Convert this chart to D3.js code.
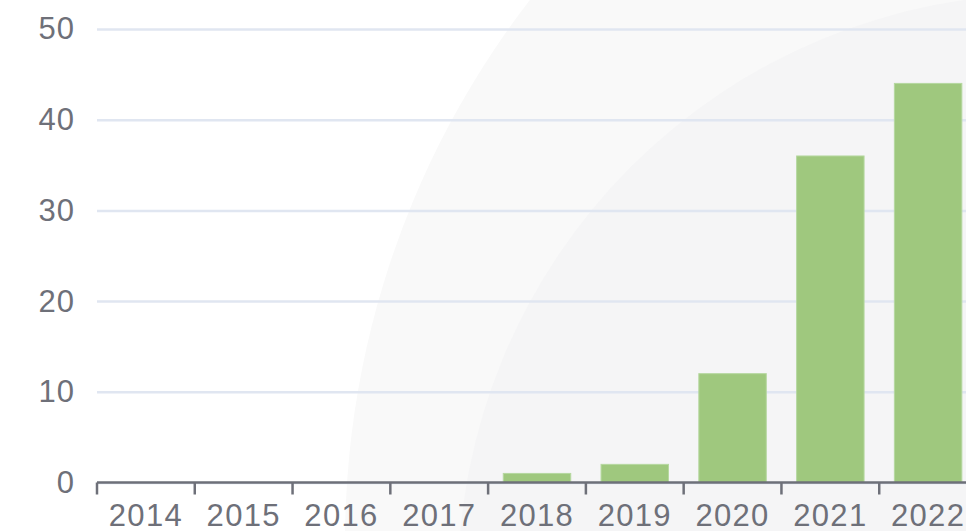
<!DOCTYPE html>
<html lang="en">
<head>
    <meta charset="UTF-8"/>
    <title>Bar chart</title>
    <script src="https://d3js.org/d3.v7.min.js"></script>
    <style>
        body { margin: 0; background: #fff; }
        svg { display: block; font-family: "Liberation Sans", Arial, Helvetica, sans-serif; }
    </style>
</head>
<body>

    <div id="chart"></div>

    <script>
        var years = ["2014", "2015", "2016", "2017", "2018", "2019", "2020", "2021", "2022"];
        var counts = [0, 0, 0, 0, 1, 2, 12, 36, 44];
        var yTicks = [0, 10, 20, 30, 40, 50];

        var w = 966;
        var h = 531;
        var plotLeft = 97;
        var plotRight = 977;   // plot runs past the window edge
        var plotTop = 29;
        var plotBottom = 482.5;
        var fontSize = "31px";

        var svg = d3.select("#chart")
                    .append("svg")
                    .attr("width", w)
                    .attr("height", h);

        // faint decorative circles in the background
        svg.append("circle")
           .attr("cx", 1232).attr("cy", 542).attr("r", 887)
           .attr("fill", "#f9f9f9");
        svg.append("circle")
           .attr("cx", 1048).attr("cy", 584).attr("r", 590)
           .attr("fill", "#f5f5f6");

        var xScale = d3.scaleBand()
                        .domain(years)
                        .range([plotLeft, plotRight])
                        .paddingInner(0.31)
                        .paddingOuter(0.155);

        var yScale = d3.scaleLinear()
                        .domain([0, 50])
                        .range([plotBottom, plotTop]);

        // grid lines + y labels
        var yAxis = d3.axisLeft(yScale)
                      .tickValues(yTicks)
                      .tickSize(-(plotRight - plotLeft))
                      .tickPadding(22);
        var gy = svg.append("g")
           .attr("transform", "translate(" + plotLeft + ",0)")
           .call(yAxis);
        gy.select(".domain").remove();
        gy.selectAll(".tick line")
          .attr("stroke", "#e0e6f1")
          .attr("stroke-width", 2.5);
        gy.selectAll(".tick text")
          .attr("fill", "#6e7079")
          .attr("font-size", fontSize)
          .attr("letter-spacing", "1px")
          .attr("font-family", "Liberation Sans, Arial, sans-serif");

        // bars
        svg.selectAll("rect.bar")
            .data(counts)
            .enter()
            .append("rect")
            .attr("class", "bar")
            .attr("x", function(d, i) { return xScale(years[i]); })
            .attr("y", function(d) { return yScale(d); })
            .attr("width", xScale.bandwidth())
            .attr("height", function(d) { return plotBottom - yScale(d); })
            .attr("fill", "#9fc87e")
            .attr("stroke", "#b6d8a0")
            .attr("stroke-width", 1);

        // x axis labels (centered in bands)
        var xAxis = d3.axisBottom(xScale)
                      .tickSize(0)
                      .tickPadding(21);
        var gx = svg.append("g")
           .attr("transform", "translate(0," + plotBottom + ")")
           .call(xAxis);
        gx.select(".domain").remove();
        gx.selectAll(".tick text")
          .attr("fill", "#6e7079")
          .attr("font-size", fontSize)
          .attr("letter-spacing", "1.3px")
          .attr("font-family", "Liberation Sans, Arial, sans-serif");

        // axis line and boundary ticks between categories
        var gap = (xScale.step() - xScale.bandwidth()) / 2;
        var boundaries = years.map(function(y) { return xScale(y) - gap; });
        boundaries.push(plotRight);

        svg.append("line")
           .attr("x1", plotLeft).attr("x2", plotRight)
           .attr("y1", plotBottom).attr("y2", plotBottom)
           .attr("stroke", "#6e7079")
           .attr("stroke-width", 2.5);

        svg.selectAll("line.xtick")
           .data(boundaries)
           .enter()
           .append("line")
           .attr("class", "xtick")
           .attr("x1", function(d) { return d; })
           .attr("x2", function(d) { return d; })
           .attr("y1", plotBottom)
           .attr("y2", plotBottom + 12)
           .attr("stroke", "#6e7079")
           .attr("stroke-width", 2.5);
    </script>

</body>
</html>
